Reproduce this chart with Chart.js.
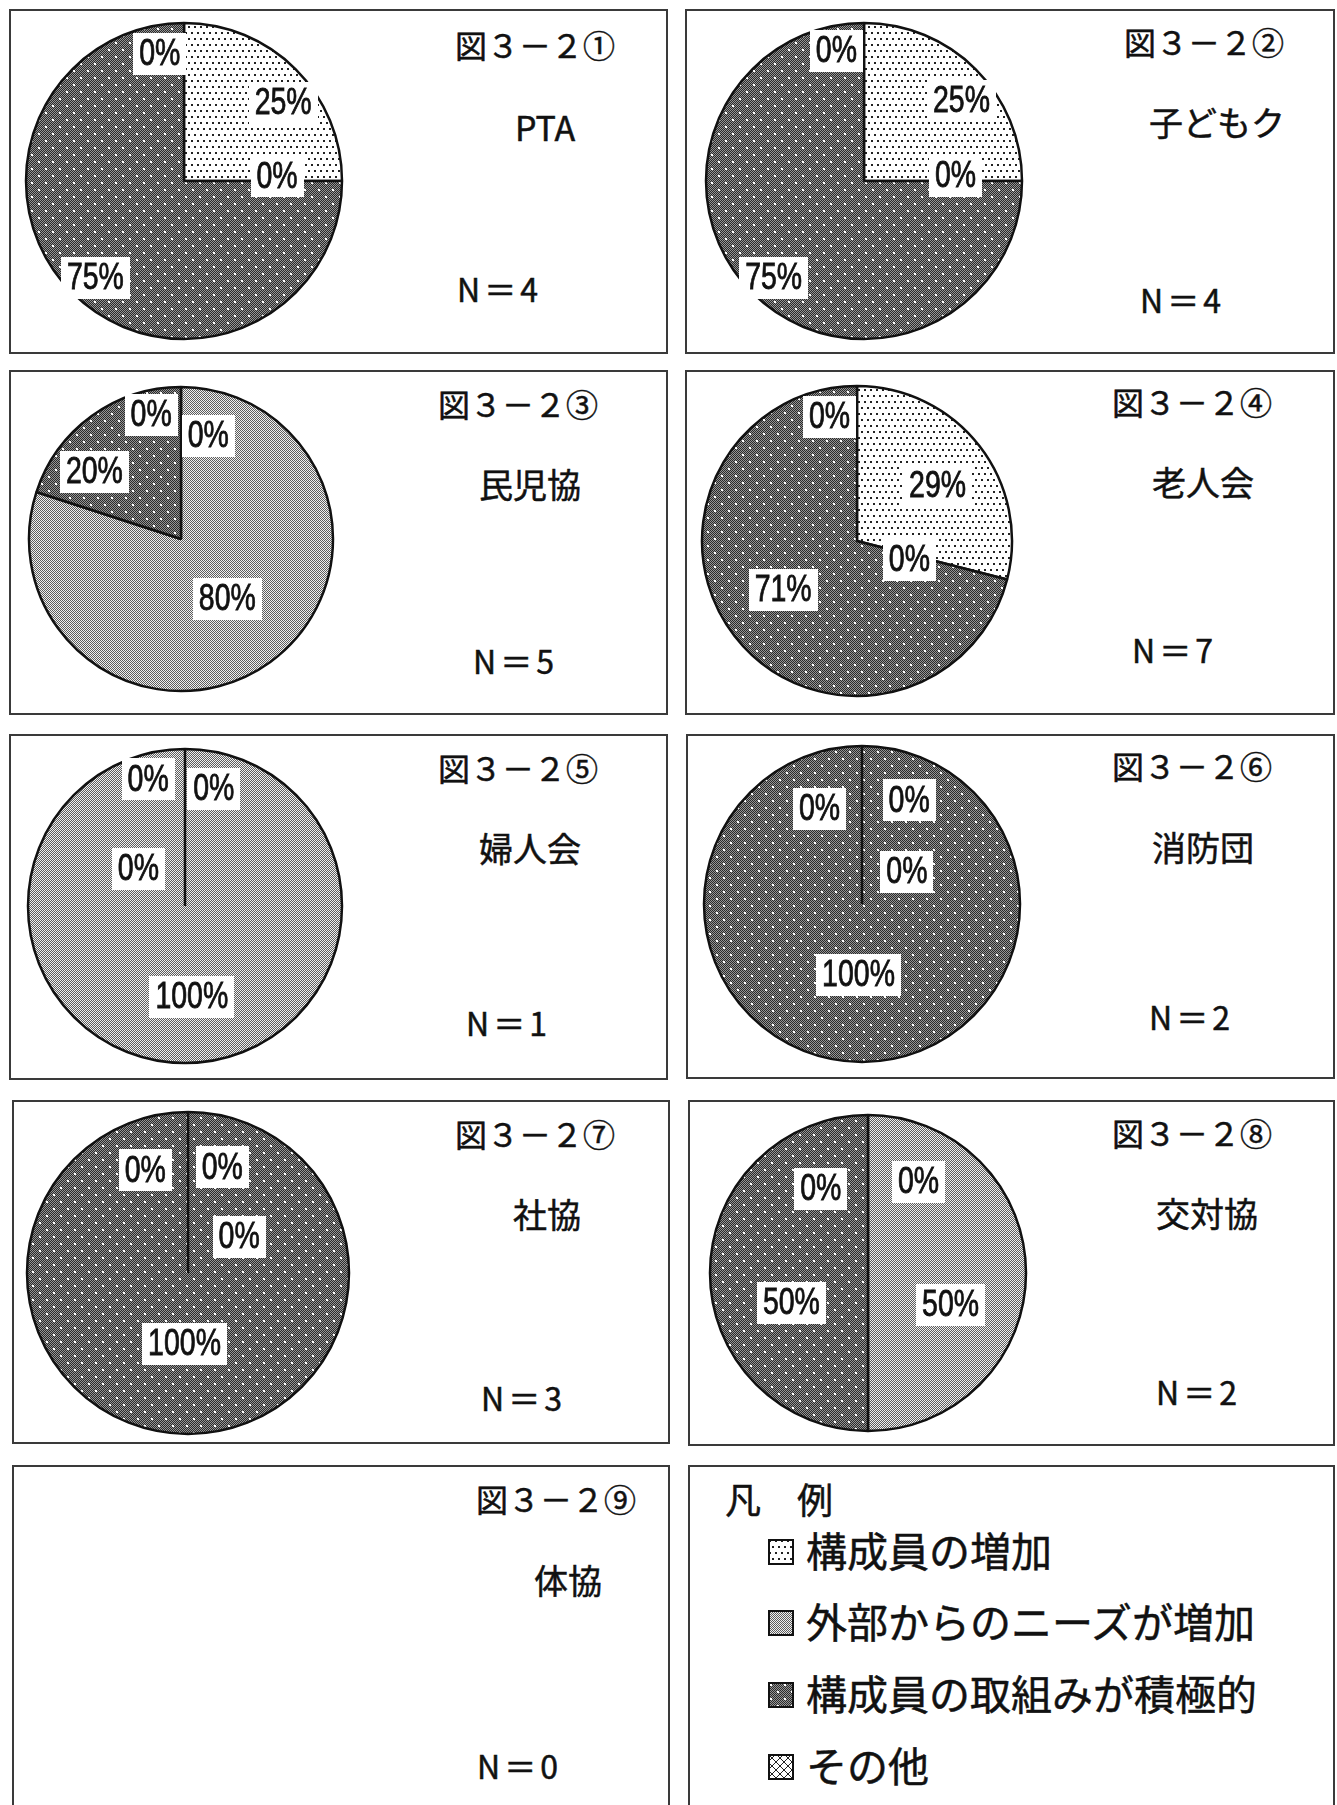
<!DOCTYPE html>
<html lang="ja">
<head>
<meta charset="utf-8">
<title>図３－２ 活動が活発になった理由</title>
<script src="https://cdn.jsdelivr.net/npm/chart.js@4.4.1/dist/chart.umd.min.js"></script>
<style>
  html, body { margin: 0; padding: 0; background: #fff; }
  body {
    width: 1337px; height: 1805px; position: relative; overflow: hidden;
    font-family: "Noto Sans CJK JP", "Noto Sans", sans-serif; color: #111;
  }
  .panel { position: absolute; border: 2px solid #3a3a3a; box-sizing: border-box; }
  .t { position: absolute; white-space: nowrap; line-height: 1; -webkit-text-stroke: 0.5px #111; }
  canvas.pie { position: absolute; }
  canvas.swatch { position: absolute; }
</style>
</head>
<body>
<script>
// ---- data -------------------------------------------------------------
const categories = ['構成員の増加', '外部からのニーズが増加', '構成員の取組みが積極的', 'その他'];
const groups = ['PTA', '子どもク', '民児協', '老人会', '婦人会', '消防団', '社協', '交対協', '体協'];
const figureNos = ['図３－２①', '図３－２②', '図３－２③', '図３－２④', '図３－２⑤',
                   '図３－２⑥', '図３－２⑦', '図３－２⑧', '図３－２⑨'];
const respondents = [4, 4, 5, 7, 1, 2, 3, 2, 0];

// share of answers (%) per category, in the order of `categories`
const ptaShares     = [25, 0, 75, 0];
const kodomoShares  = [25, 0, 75, 0];
const minjiShares   = [0, 80, 20, 0];
const rojinShares   = [29, 0, 71, 0];
const fujinShares   = [0, 100, 0, 0];
const shoboShares   = [0, 0, 100, 0];
const shakyoShares  = [0, 0, 100, 0];
const kotaiShares   = [0, 50, 50, 0];
const taikyoShares  = [0, 0, 0, 0];
const sharesByGroup = [ptaShares, kodomoShares, minjiShares, rojinShares, fujinShares,
                       shoboShares, shakyoShares, kotaiShares, taikyoShares];

// ---- layout -----------------------------------------------------------
// panel frames: [left, top, right, bottom]
const panelBoxes = [
  [9, 9, 668, 354], [685, 9, 1335, 354],
  [9, 370, 668, 715], [685, 370, 1335, 715],
  [9, 734, 668, 1080], [686, 734, 1335, 1079],
  [12, 1100, 670, 1444], [688, 1100, 1335, 1446],
  [12, 1465, 670, 1830]
];
const legendBox = [688, 1465, 1335, 1830];
// pie centre and radius
const pieCentres = [[184, 181], [864, 181], [181, 539], [857, 541], [185, 906],
                    [862, 904], [188, 1273], [868, 1273], [190, 1640]];
const pieRadii = [158, 158, 152, 155, 157, 158, 161, 158, 158];
// figure number: [left, centreY]; group name: [centreX, centreY]; N: [left, centreY]
const figurePos = [[455, 46], [1124, 43], [438, 405], [1112, 403], [438, 769],
                   [1112, 767], [455, 1135], [1112, 1134], [476, 1500]];
const namePos = [[545, 129], [1217, 124], [530, 486], [1203, 484], [530, 850],
                 [1203, 849], [547, 1216], [1207, 1215], [568, 1582]];
const nPos = [[457, 290], [1140, 301], [473, 662], [1132, 651], [466, 1024],
              [1149, 1018], [481, 1399], [1156, 1393], [477, 1767]];
// percentage label placement per slice: [angle shift from slice middle (deg), distance / radius]
const labelPlacement = [
  [[6.7, 0.80], [-2.8, 0.59], [-2.5, 0.83], [-10.8, 0.82]],
  [[5.5, 0.80], [-3.0, 0.58], [-2.1, 0.84], [-12.0, 0.84]],
  [[14.9, 0.70], [-1.6, 0.50], [-16.3, 0.72], [-13.5, 0.84]],
  [[3.4, 0.63], [5.6, 0.36], [4.5, 0.57], [-12.5, 0.82]],
  [[13.8, 0.77], [-4.3, 0.58], [-16.2, 0.84], [-51.3, 0.38]],
  [[24.5, 0.72], [54.3, 0.35], [2.8, 0.45], [-24.0, 0.66]],
  [[18.0, 0.69], [54.6, 0.39], [2.8, 0.44], [-22.6, 0.69]],
  [[29.0, 0.66], [21.0, 0.56], [-21.2, 0.52], [-29.3, 0.61]],
  [[0, 0.6], [0, 0.6], [0, 0.6], [0, 0.6]]
];

// ---- fill patterns ----------------------------------------------------
function makeTile(w, h, paint) {
  const c = document.createElement('canvas');
  c.width = w; c.height = h;
  paint(c.getContext('2d'));
  return c;
}
const tiles = [
  // sparse black dots on white
  makeTile(12, 12, g => {
    g.fillStyle = '#fff'; g.fillRect(0, 0, 12, 12);
    g.fillStyle = '#222';
    g.fillRect(1, 1, 2, 2); g.fillRect(7, 1, 2, 2);
    g.fillRect(4, 7, 2, 2); g.fillRect(10, 7, 2, 2);
  }),
  // fine grey stipple
  makeTile(4, 4, g => {
    g.fillStyle = '#f0f0f0'; g.fillRect(0, 0, 4, 4);
    g.fillStyle = '#5e5e5e';
    g.fillRect(0, 0, 1, 1); g.fillRect(2, 0, 1, 1);
    g.fillRect(1, 1, 1, 1); g.fillRect(3, 1, 1, 1);
    g.fillRect(0, 2, 1, 1); g.fillRect(2, 2, 1, 1);
    g.fillRect(1, 3, 1, 1); g.fillRect(3, 3, 1, 1);
  }),
  // dark stipple with white dots
  makeTile(14, 14, g => {
    g.fillStyle = '#959595'; g.fillRect(0, 0, 14, 14);
    g.fillStyle = '#2a2a2a';
    for (let y = 0; y < 14; y++) for (let x = 0; x < 14; x++) if ((x + y) % 2 === 0) g.fillRect(x, y, 1, 1);
    g.fillStyle = '#fff';
    g.fillRect(2, 2, 2, 2); g.fillRect(9, 9, 2, 2);
  }),
  // cross hatch
  makeTile(8, 8, g => {
    g.fillStyle = '#fff'; g.fillRect(0, 0, 8, 8);
    g.strokeStyle = '#222'; g.lineWidth = 1;
    g.beginPath();
    g.moveTo(0, 0); g.lineTo(8, 8);
    g.moveTo(8, 0); g.lineTo(0, 8);
    g.stroke();
  })
];
const probe = document.createElement('canvas').getContext('2d');
const fills = tiles.map(t => probe.createPattern(t, 'repeat'));

// ---- percentage labels on white boxes ---------------------------------
const percentLabels = {
  id: 'percentLabels',
  afterDatasetsDraw(chart, args, opts) {
    const values = chart.data.datasets[0].data;
    const total = values.reduce((a, b) => a + b, 0);
    if (!total) return;
    const ctx = chart.ctx;
    const meta = chart.getDatasetMeta(0);
    meta.data.forEach((arc, i) => {
      const p = arc.getProps(['x', 'y', 'startAngle', 'endAngle', 'outerRadius'], true);
      const [shift, dist] = opts.placement[i];
      const a = (p.startAngle + p.endAngle) / 2 + shift * Math.PI / 180;
      const lx = p.x + Math.cos(a) * p.outerRadius * dist;
      const ly = p.y + Math.sin(a) * p.outerRadius * dist;
      const text = Math.round(values[i] / total * 100) + '%';
      ctx.save();
      ctx.font = '37px "Liberation Sans", Arial, sans-serif';
      const squeeze = 0.77;
      const w = ctx.measureText(text).width * squeeze;
      ctx.fillStyle = '#fff';
      ctx.fillRect(Math.round(lx - w / 2 - 6), Math.round(ly - 21), Math.round(w + 12), 42);
      ctx.translate(lx, ly);
      ctx.scale(squeeze, 1);
      ctx.fillStyle = '#111';
      ctx.strokeStyle = '#111';
      ctx.lineWidth = 0.8;
      ctx.textAlign = 'center';
      ctx.textBaseline = 'middle';
      ctx.fillText(text, 0, 1);
      ctx.strokeText(text, 0, 1);
      ctx.restore();
    });
  }
};

// ---- build page -------------------------------------------------------
function addText(str, left, cy, size, extra) {
  const d = document.createElement('div');
  d.className = 't';
  d.textContent = str;
  d.style.fontSize = size + 'px';
  d.style.left = left + 'px';
  d.style.top = Math.round(cy - size * 0.56) + 'px';
  if (extra) Object.assign(d.style, extra);
  document.body.appendChild(d);
  return d;
}
function addFrame(box) {
  const d = document.createElement('div');
  d.className = 'panel';
  d.style.left = box[0] + 'px';
  d.style.top = box[1] + 'px';
  d.style.width = (box[2] - box[0]) + 'px';
  d.style.height = (box[3] - box[1]) + 'px';
  document.body.appendChild(d);
}

groups.forEach((name, g) => {
  addFrame(panelBoxes[g]);

  const r = pieRadii[g];
  const [cx, cy] = pieCentres[g];
  const size = 2 * r + 8;
  const cv = document.createElement('canvas');
  cv.className = 'pie';
  cv.width = size; cv.height = size;
  cv.style.left = (cx - size / 2) + 'px';
  cv.style.top = (cy - size / 2) + 'px';
  document.body.appendChild(cv);

  new Chart(cv, {
    type: 'pie',
    data: {
      labels: categories,
      datasets: [{
        data: sharesByGroup[g],
        backgroundColor: fills,
        borderColor: '#111',
        borderWidth: 2.5
      }]
    },
    options: {
      responsive: false,
      animation: false,
      radius: r,
      layout: { padding: 0 },
      events: [],
      plugins: {
        legend: { display: false },
        tooltip: { enabled: false },
        percentLabels: { placement: labelPlacement[g] }
      }
    },
    plugins: [percentLabels]
  });

  addText(figureNos[g], figurePos[g][0], figurePos[g][1], 32);
  const nm = addText(name, namePos[g][0], namePos[g][1], 34);
  nm.style.transform = 'translateX(-50%)';
  addText('N＝' + respondents[g], nPos[g][0], nPos[g][1], 32, { letterSpacing: '4px' });
});

// legend panel
addFrame(legendBox);
addText('凡　例', 725, 1500, 36);
const legendRows = [1552, 1623, 1695, 1767];
categories.forEach((cat, i) => {
  const sw = document.createElement('canvas');
  sw.className = 'swatch';
  sw.width = 26; sw.height = 26;
  sw.style.left = '768px';
  sw.style.top = (legendRows[i] - 13) + 'px';
  const g = sw.getContext('2d');
  g.fillStyle = g.createPattern(tiles[i], 'repeat');
  g.fillRect(0, 0, 26, 26);
  g.strokeStyle = '#111'; g.lineWidth = 2;
  g.strokeRect(1, 1, 24, 24);
  document.body.appendChild(sw);
  addText(cat, 806, legendRows[i], 41);
});
</script>
</body>
</html>
